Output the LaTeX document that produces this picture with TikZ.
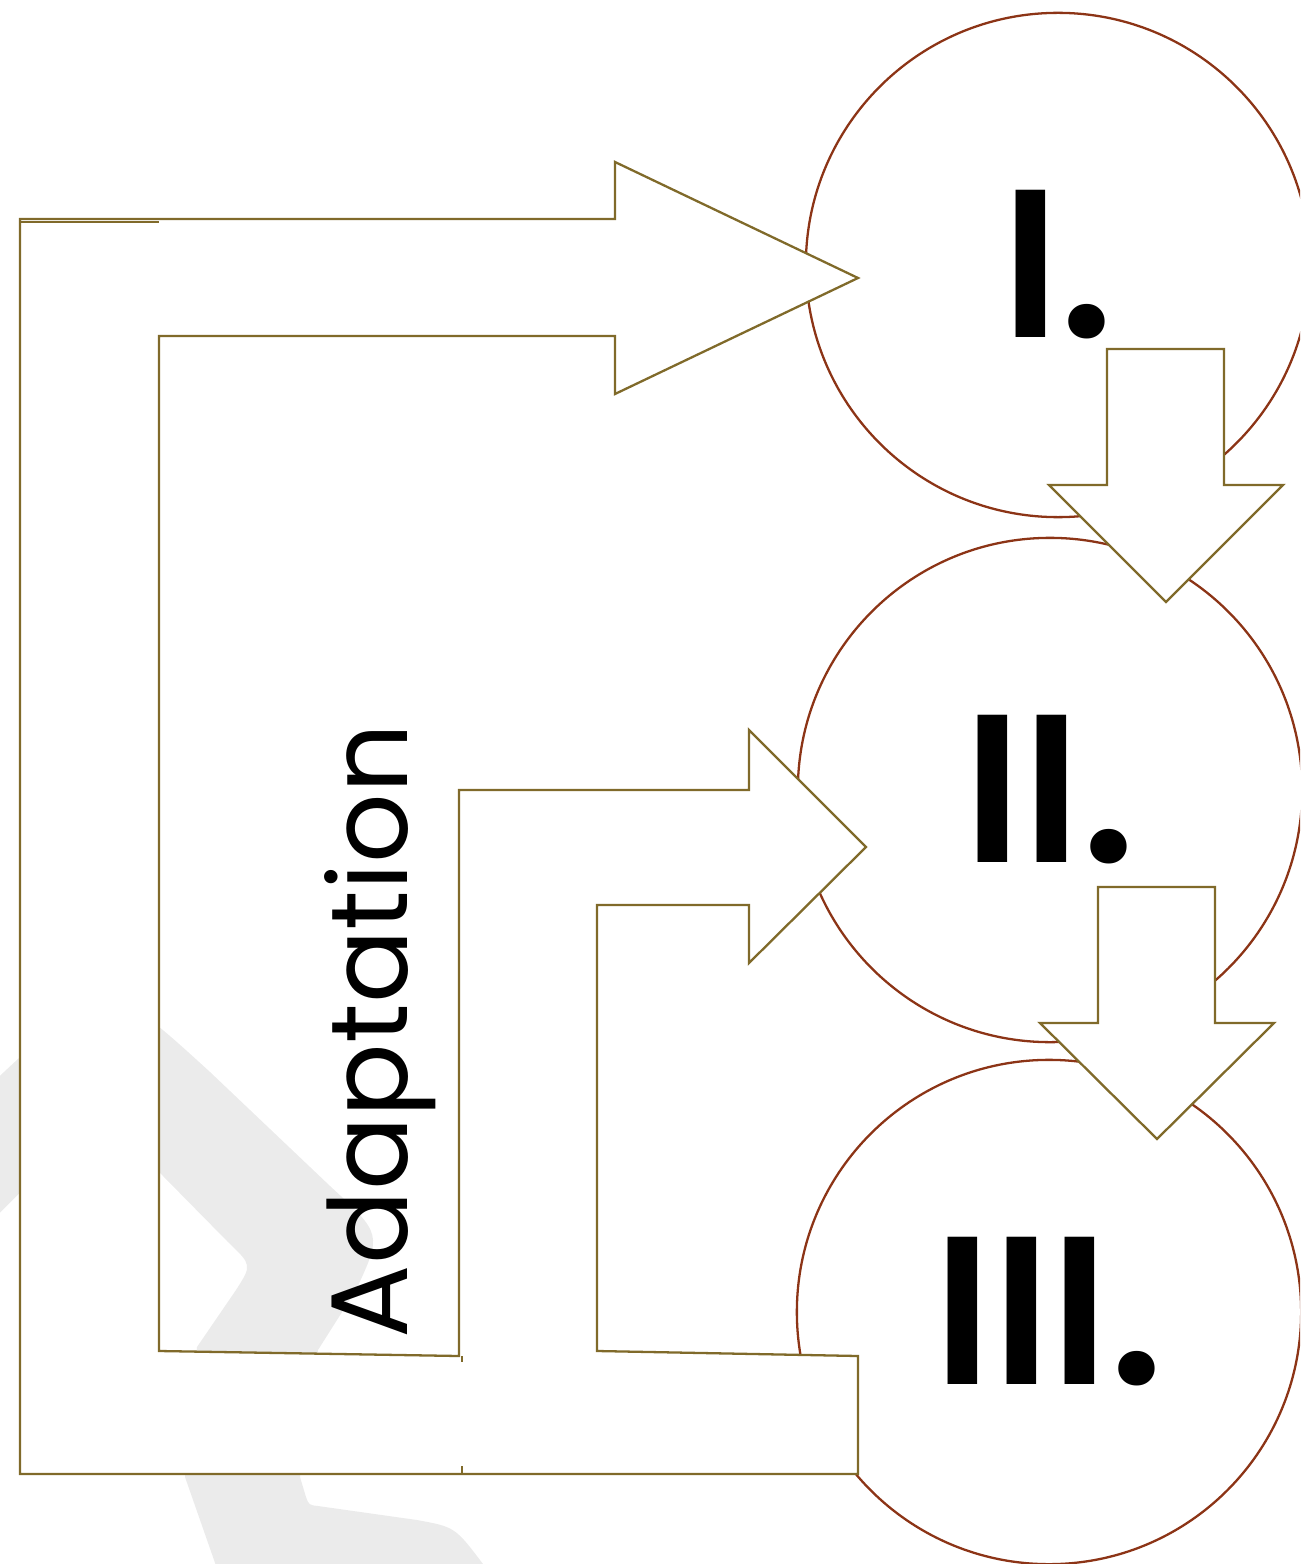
\documentclass[tikz,border=0pt]{standalone}
\usepackage{fontspec}
\setmainfont{Poppins}
\newfontfamily\numfont{Poppins SemiBold}
\definecolor{arrowline}{RGB}{128,106,42}
\definecolor{ringline}{RGB}{140,52,22}
\definecolor{wmgray}{RGB}{235,235,235}
\begin{document}
\begin{tikzpicture}[x=0.01cm,y=-0.01cm,
  blockarrow/.style={draw=arrowline, line width=0.65pt, fill=white, line join=miter},
  artifact/.style={draw=arrowline, line width=0.65pt},
  ring/.style={circle, draw=ringline, line width=0.65pt, fill=white, minimum size=5.04cm, inner sep=0pt,
    font=\fontsize{60}{60}\numfont},
  label/.style={font=\fontsize{31}{31}\selectfont}
]
\clip (0,0) rectangle (1300,1564);
% watermark shape in the background
\fill[wmgray] (-40,1115) -- (4,1072) .. controls (106,977) .. (210,1072)
  -- (330,1186) .. controls (382,1234) .. (356,1290) -- (318,1350) -- (300,1477)
  -- (306,1497) .. controls (309,1505) .. (318,1506) -- (417,1520)
  .. controls (455,1527) .. (483,1564) -- (505,1600) -- (228,1600) -- (185,1477)
  -- (197,1347) -- (236,1290) .. controls (252,1265) .. (228,1242)
  -- (100,1112) -- (-40,1253) -- cycle;
% circles with numerals
\node[ring] (c1) at (1058,265) {I.};
\node[ring] (c2) at (1050,790) {II.};
\node[ring] (c3) at (1049,1312) {III.};
% feedback arrow
\draw[blockarrow] (858,1474) -- (20,1474) -- (20,219) -- (615,219) -- (615,162)
  -- (858,278) -- (615,394) -- (615,336) -- (159,336) -- (159,1351)
  -- (459,1356) -- (459,790) -- (749,790) -- (749,730) -- (866,847)
  -- (749,963) -- (749,905) -- (597,905) -- (597,1351) -- (858,1356) -- cycle;
\draw[artifact] (20,222) -- (159,222);
\draw[artifact] (462,1356) -- (462,1362);
\draw[artifact] (462,1466) -- (462,1474);
% down arrows
\draw[blockarrow] (1107,349) -- (1224,349) -- (1224,485) -- (1283,485) -- (1166,602)
  -- (1049,485) -- (1107,485) -- cycle;
\draw[blockarrow] (1098,887) -- (1215,887) -- (1215,1023) -- (1274,1023) -- (1157,1139)
  -- (1040,1023) -- (1098,1023) -- cycle;
% label
\node[label, rotate=90, anchor=base, inner sep=0pt] (adapt) at (407,1031) {Adaptation};
\end{tikzpicture}
\end{document}
